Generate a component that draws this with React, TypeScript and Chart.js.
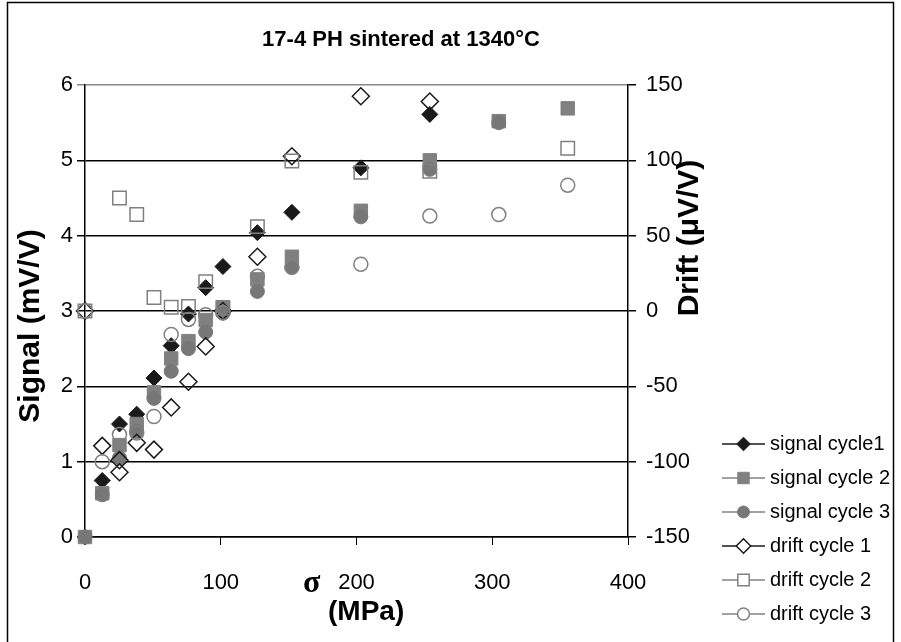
import React, { useEffect, useRef } from "react";
import { Chart, registerables } from "chart.js";
Chart.register(...registerables);

// ---- data ----
const xValues = [0, 12.7, 25.4, 38.1, 50.8, 63.5, 76.2, 88.9, 101.6, 127, 152.4, 203.2, 254, 304.8, 355.6];
const signalCycle1 = [0, 0.75, 1.5, 1.63, 2.11, 2.54, 2.96, 3.31, 3.59, 4.04, 4.31, 4.9, 5.61, null, null];
const signalCycle2 = [0, 0.58, 1.22, 1.5, 1.92, 2.37, 2.6, 2.88, 3.05, 3.42, 3.72, 4.33, 5.0, 5.52, 5.69];
const signalCycle3 = [0, 0.56, 1.05, 1.4, 1.84, 2.2, 2.5, 2.72, 2.97, 3.26, 3.58, 4.25, 4.88, 5.5, null];
const drift1X = [0, 12.7, 25.4, 25.4, 38.1, 50.8, 63.5, 76.2, 88.9, 101.6, 127, 152.4, 203.2, 254];
const driftCycle1 = [0, -89.5, -99, -107, -87.5, -92, -64, -47, -23.5, 0, 36, 102.7, 142.5, 139];
const driftCycle2 = [0, null, 75, 64, 9, 2.5, 3, 19.5, 2, 56, 99.5, 92, 92.7, null, 108];
const driftCycle3 = [0, -100, -82, -81, -70, -15.6, -5.6, -2.5, -1, 23, 29, 31, 63, 64, 83.5];

const xTicks = [0, 100, 200, 300, 400];
const leftTicks = [0, 1, 2, 3, 4, 5, 6];
const rightTicks = [-150, -100, -50, 0, 50, 100, 150];

const seriesNames = ["signal cycle1", "signal cycle 2", "signal cycle 3", "drift cycle 1", "drift cycle 2", "drift cycle 3"];
const titleText = "17-4 PH sintered at 1340°C";

const FONT = '"Liberation Sans", Arial, sans-serif';
const DARK = "#1a1a1a";
const GRAY = "#808080";
const GRAY2 = "#777777";

function pts(xs: number[], ys: (number | null)[]) {
  const out: { x: number; y: number }[] = [];
  xs.forEach((x, i) => {
    const y = ys[i];
    if (y !== null && y !== undefined) out.push({ x, y });
  });
  return out;
}

type Sty = { style: string; r: number; fill: string | null; stroke: string; lw: number; line: string };
const styles: Sty[] = [
  { style: "rectRot", r: 8, fill: DARK, stroke: DARK, lw: 1, line: DARK },
  { style: "rect", r: 9.5, fill: GRAY, stroke: GRAY, lw: 1, line: GRAY },
  { style: "circle", r: 7, fill: GRAY2, stroke: GRAY2, lw: 1, line: GRAY },
  { style: "rectRot", r: 8.5, fill: null, stroke: DARK, lw: 1.5, line: DARK },
  { style: "rect", r: 9.5, fill: null, stroke: GRAY, lw: 1.5, line: GRAY },
  { style: "circle", r: 7, fill: null, stroke: GRAY, lw: 1.5, line: GRAY },
];

function marker(ctx: CanvasRenderingContext2D, s: Sty, x: number, y: number, scale = 1) {
  const r = s.r * scale;
  ctx.beginPath();
  if (s.style === "circle") ctx.arc(x, y, r, 0, Math.PI * 2);
  else if (s.style === "rect") {
    const h = r * Math.SQRT1_2;
    ctx.rect(x - h, y - h, 2 * h, 2 * h);
  } else {
    ctx.moveTo(x, y - r);
    ctx.lineTo(x + r, y);
    ctx.lineTo(x, y + r);
    ctx.lineTo(x - r, y);
    ctx.closePath();
  }
  ctx.fillStyle = s.fill ? s.fill : "#ffffff";
  ctx.fill();
  ctx.strokeStyle = s.stroke;
  ctx.lineWidth = s.lw;
  ctx.stroke();
}

const decorPlugin = {
  id: "decor",
  beforeDraw(chart: any) {
    const ctx = chart.ctx as CanvasRenderingContext2D;
    ctx.save();
    ctx.fillStyle = "#ffffff";
    ctx.fillRect(0, 0, chart.width, chart.height);
    ctx.restore();
  },
  afterDraw(chart: any) {
    const ctx = chart.ctx as CanvasRenderingContext2D;
    ctx.save();
    // frame
    ctx.strokeStyle = "#000";
    ctx.lineWidth = 1.5;
    ctx.strokeRect(7.5, 2.5, 886, 680);
    ctx.fillStyle = "#000";
    // title
    ctx.font = `bold 22px ${FONT}`;
    ctx.textAlign = "center";
    ctx.textBaseline = "middle";
    ctx.fillText(titleText, 401, 40);
    // left axis title
    ctx.save();
    ctx.translate(31, 326);
    ctx.rotate(-Math.PI / 2);
    ctx.font = `bold 30px ${FONT}`;
    ctx.fillText("Signal (mV/V)", 0, 0);
    ctx.restore();
    // right axis title
    ctx.save();
    ctx.translate(690, 238);
    ctx.rotate(-Math.PI / 2);
    ctx.font = `bold 30px ${FONT}`;
    ctx.fillText("Drift (\u03BCV/V)", 0, 0);
    ctx.restore();
    // x axis title
    ctx.textAlign = "left";
    ctx.font = `bold 32px "Liberation Serif", serif`;
    ctx.fillText("\u03C3", 303, 584);
    ctx.font = `bold 28px ${FONT}`;
    ctx.fillText("(MPa)", 328, 612);
    // legend
    ctx.font = `20px ${FONT}`;
    const rowY0 = 444;
    const rowGap = 34;
    seriesNames.forEach((name, i) => {
      const y = rowY0 + i * rowGap;
      const s = styles[i];
      ctx.strokeStyle = s.line;
      ctx.lineWidth = 1.5;
      ctx.beginPath();
      ctx.moveTo(722, y);
      ctx.lineTo(765, y);
      ctx.stroke();
      marker(ctx, s, 743.5, y, 0.85);
      ctx.fillStyle = "#000";
      ctx.textAlign = "left";
      ctx.textBaseline = "middle";
      ctx.fillText(name, 770, y);
    });
    ctx.restore();
  },
};

export default function App() {
  const ref = useRef<HTMLCanvasElement | null>(null);
  useEffect(() => {
    if (!ref.current) return;
    const mk = (i: number, data: any[], yAxisID: string) => {
      const s = styles[i];
      return {
        label: seriesNames[i],
        data,
        yAxisID,
        showLine: false,
        clip: false,
        pointStyle: s.style,
        pointRadius: s.r,
        pointHoverRadius: s.r,
        pointBackgroundColor: s.fill ?? "rgba(0,0,0,0)",
        pointBorderColor: s.stroke,
        pointBorderWidth: s.lw,
        order: 5 - i,
      };
    };
    const chart = new Chart(ref.current, {
      type: "scatter",
      data: {
        datasets: [
          mk(0, pts(xValues, signalCycle1), "y"),
          mk(1, pts(xValues, signalCycle2), "y"),
          mk(2, pts(xValues, signalCycle3), "y"),
          mk(3, pts(drift1X, driftCycle1), "y2"),
          mk(4, pts(xValues, driftCycle2), "y2"),
          mk(5, pts(xValues, driftCycle3), "y2"),
        ] as any,
      },
      options: {
        animation: false,
        responsive: false,
        devicePixelRatio: 1,
        layout: { padding: { top: 85, left: 0, right: 0, bottom: 0 } },
        plugins: { legend: { display: false }, title: { display: false }, tooltip: { enabled: false } },
        scales: {
          x: {
            type: "linear",
            position: "bottom",
            min: 0,
            max: 400,
            afterBuildTicks: (s: any) => { s.ticks = xTicks.map((v) => ({ value: v })); },
            afterFit: (s: any) => { s.height = 105; },
            grid: { drawOnChartArea: false, drawTicks: true, tickLength: 8, color: "#000", lineWidth: 1 },
            border: { color: "#000", width: 1.5 },
            ticks: { font: { size: 22, family: FONT }, color: "#000", padding: 25, maxRotation: 0 },
          },
          y: {
            type: "linear",
            position: "left",
            min: 0,
            max: 6,
            afterBuildTicks: (s: any) => { s.ticks = leftTicks.map((v) => ({ value: v })); },
            afterFit: (s: any) => { s.width = 85; },
            grid: {
              drawOnChartArea: true,
              drawTicks: true,
              tickLength: 8,
              color: (c: any) => (c.tick && c.tick.value === 6 ? "#888888" : "#000000"),
              lineWidth: 1.5,
            },
            border: { color: "#000", width: 1.5 },
            ticks: { font: { size: 22, family: FONT }, color: "#000", padding: 4 },
          },
          y2: {
            type: "linear",
            position: "right",
            min: -150,
            max: 150,
            afterBuildTicks: (s: any) => { s.ticks = rightTicks.map((v) => ({ value: v })); },
            afterFit: (s: any) => { s.width = 273; },
            grid: { drawOnChartArea: false, drawTicks: true, tickLength: 8, color: "#000", lineWidth: 1.5 },
            border: { color: "#000", width: 1.5 },
            ticks: { font: { size: 22, family: FONT }, color: "#000", padding: 10 },
          },
        },
      },
      plugins: [decorPlugin],
    } as any);
    return () => chart.destroy();
  }, []);
  return (
    <div style={{ position: "absolute", left: 0, top: 0, width: 901, height: 642 }}>
      <canvas ref={ref} width={901} height={642} style={{ display: "block", width: 901, height: 642 }} />
    </div>
  );
}
